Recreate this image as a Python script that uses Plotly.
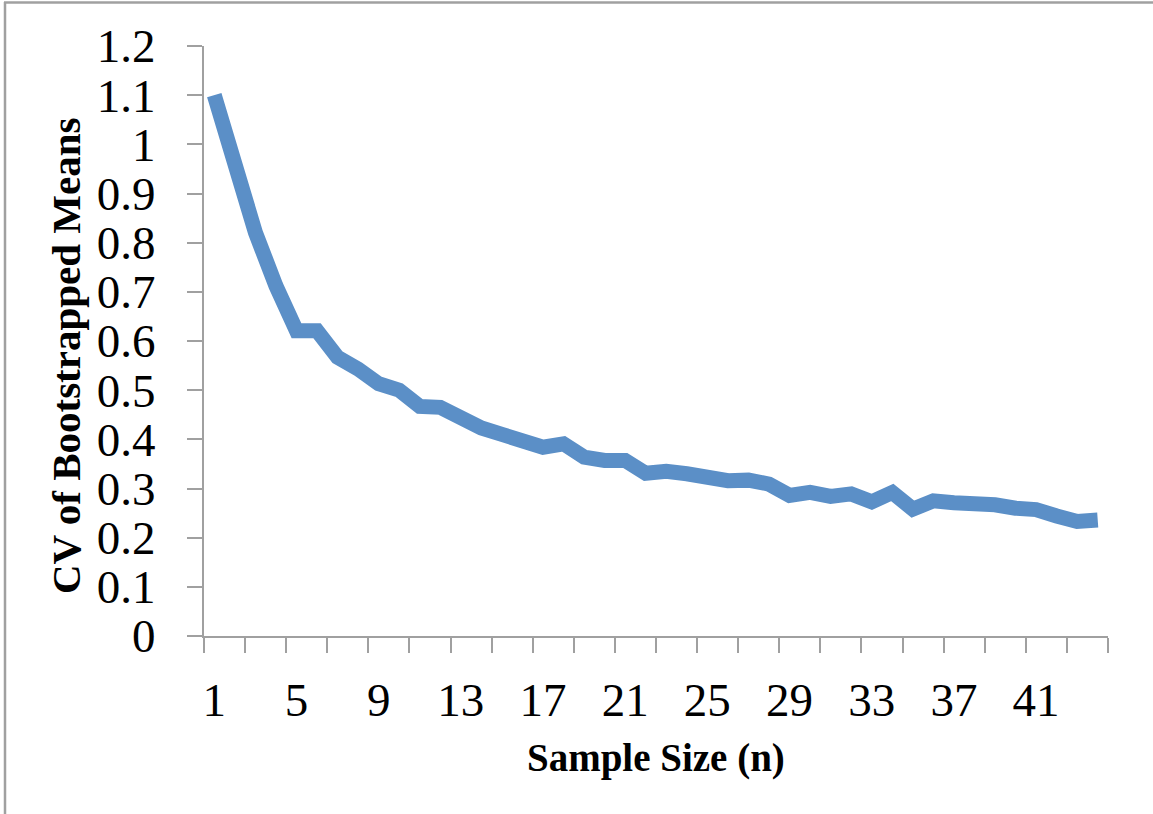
import plotly.graph_objects as go

# Sample sizes and coefficient of variation of the bootstrapped means
sample_size = list(range(1, 45))
cv_means = [
    1.100, 0.965, 0.821, 0.712, 0.621, 0.621, 0.567, 0.543, 0.513, 0.500,
    0.467, 0.465, 0.441, 0.423, 0.410, 0.393, 0.384, 0.391, 0.364, 0.357,
    0.357, 0.331, 0.335, 0.330, 0.323, 0.316, 0.317, 0.309, 0.286, 0.292,
    0.284, 0.289, 0.273, 0.292, 0.258, 0.275, 0.271, 0.272, 0.267, 0.260,
    0.257, 0.244, 0.233, 0.236,
]

x_label_vals = list(range(1, 45, 4))
x_tick_marks = [v + 0.5 for v in range(0, 45, 2)]
y_tick_vals = [round(i * 0.1, 1) for i in range(13)]
y_tick_text = ["0" if v == 0 else ("1" if v == 1 else f"{v:g}") for v in y_tick_vals]

W, H = 1153, 814
ML, MR, MT, MB = 204, 45, 46, 178
PW, PH = W - ML - MR, H - MT - MB

AXIS_GRAY = "#A0A0A0"
SERIF = "Liberation Serif"

fig = go.Figure()
fig.add_trace(go.Scatter(
    x=sample_size, y=cv_means, mode="lines",
    line=dict(color="rgb(91,143,199)", width=15),
    hoverinfo="skip", showlegend=False,
))

fig.update_layout(
    width=W, height=H,
    margin=dict(l=ML, r=MR, t=MT, b=MB, pad=0),
    paper_bgcolor="white", plot_bgcolor="white",
    font=dict(family=SERIF, color="black"),
    xaxis=dict(
        range=[0.5, 44.5], tickmode="array", tickvals=x_label_vals,
        ticktext=[str(v) for v in x_label_vals],
        ticks="", showgrid=False, zeroline=False,
        showline=True, linecolor=AXIS_GRAY, linewidth=2,
        tickfont=dict(family=SERIF, size=47, color="black"),
        ticklabelstandoff=22,
        minor=dict(tickmode="array", tickvals=x_tick_marks, ticks="outside",
                   ticklen=15, tickwidth=2, tickcolor=AXIS_GRAY, showgrid=False),
    ),
    yaxis=dict(
        range=[0, 1.2], tickmode="array", tickvals=y_tick_vals, ticktext=y_tick_text,
        ticks="outside", ticklen=15, tickwidth=2, tickcolor=AXIS_GRAY,
        showgrid=False, zeroline=False,
        showline=True, linecolor=AXIS_GRAY, linewidth=2,
        tickfont=dict(family=SERIF, size=47, color="black"),
        ticklabelstandoff=22,
    ),
    annotations=[
        dict(text="<b>Sample Size (n)</b>", xref="paper", yref="paper",
             x=0.5 + (656 - ML - PW / 2) / PW, y=(H - MB - 758) / PH,
             xanchor="center", yanchor="middle", showarrow=False,
             font=dict(family=SERIF, size=39, color="black")),
        dict(text="<b>CV of Bootstrapped Means</b>", xref="paper", yref="paper",
             x=(66 - ML) / PW, y=(H - MB - 356) / PH, textangle=-90,
             xanchor="center", yanchor="middle", showarrow=False,
             font=dict(family=SERIF, size=41, color="black")),
    ],
    shapes=[
        # frame edges on the left and top of the page
        dict(type="line", xref="paper", yref="paper",
             x0=(5 - ML) / PW, x1=(5 - ML) / PW, y0=(H - MB - H) / PH, y1=(H - MB - 2) / PH,
             line=dict(color=AXIS_GRAY, width=2.5)),
        dict(type="line", xref="paper", yref="paper",
             x0=(4 - ML) / PW, x1=(W - ML) / PW, y0=(H - MB - 2.5) / PH, y1=(H - MB - 2.5) / PH,
             line=dict(color=AXIS_GRAY, width=2.5)),
    ],
)

fig.write_html("out.html")
